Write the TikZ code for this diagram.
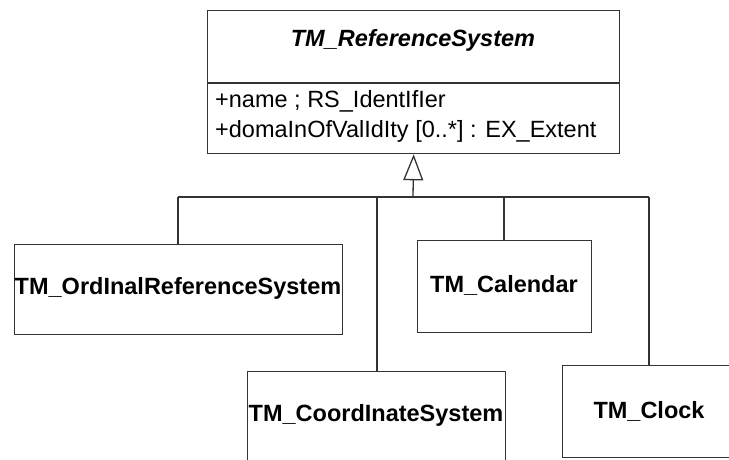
\documentclass[tikz,border=0pt]{standalone}
\usepackage{fontspec}
\setmainfont{Liberation Sans}
\usetikzlibrary{arrows.meta}
\begin{document}
\begin{tikzpicture}[x=1pt,y=-1pt,
  line/.style={draw=black!80,line width=1.3pt},
  cls/.style={line,fill=white,inner sep=0pt,anchor=north west},
  lbl/.style={font=\fontsize{23.5}{27}\selectfont\bfseries,inner sep=0pt},
  attr/.style={font=\fontsize{23.5}{27}\selectfont,inner sep=0pt,anchor=base west},
  gen/.style={line,-{Triangle[open,width=20pt,length=26pt]}}]
\useasboundingbox (0,0) rectangle (729,460);
\clip (0,0) rectangle (729,460);
\fill[white] (0,0) rectangle (729,460);
% main class
\node[cls,minimum width=412pt,minimum height=143pt] (rs) at (207,10) {};
\draw[line] (207,83) -- (619,83);
\node[lbl,font=\fontsize{23.5}{27}\selectfont\bfseries\itshape] (rsname) at (413,40) {TM\_ReferenceSystem};
\node[attr] (a1) at (215,108) {+name ; RS\_IdentIfIer};
\node[attr] (a2) at (215,138) {+domaInOfValIdIty [0..*] : EX\_Extent};
% child classes
\node[cls,minimum width=328pt,minimum height=90pt] (ord) at (14,244) {};
\node[lbl] (ordt) at (178,288) {TM\_OrdInalReferenceSystem};
\node[cls,minimum width=174pt,minimum height=92pt] (cal) at (417,240) {};
\node[lbl] (calt) at (504,285) {TM\_Calendar};
\node[cls,minimum width=258pt,minimum height=110pt] (crd) at (247,371) {};
\node[lbl] (crdt) at (376,415) {TM\_CoordInateSystem};
\node[cls,minimum width=174pt,minimum height=92pt] (clk) at (562,365) {};
\node[lbl] (clkt) at (649,411) {TM\_Clock};
% generalization tree
\coordinate (hub) at (413,197);
\coordinate (bL) at (178,197);
\coordinate (bR) at (649,197);
\coordinate (bC) at (377,197);
\coordinate (bK) at (504,197);
\draw[line] (bL) -- (bR);
\draw[line] (ord.north -| bL) -- (bL);
\draw[line] (crd.north -| bC) -- (bC);
\draw[line] (cal.north -| bK) -- (bK);
\draw[line] (clk.north -| bR) -- (bR);
\draw[gen] (hub) -- (rs.south);
\end{tikzpicture}
\end{document}
